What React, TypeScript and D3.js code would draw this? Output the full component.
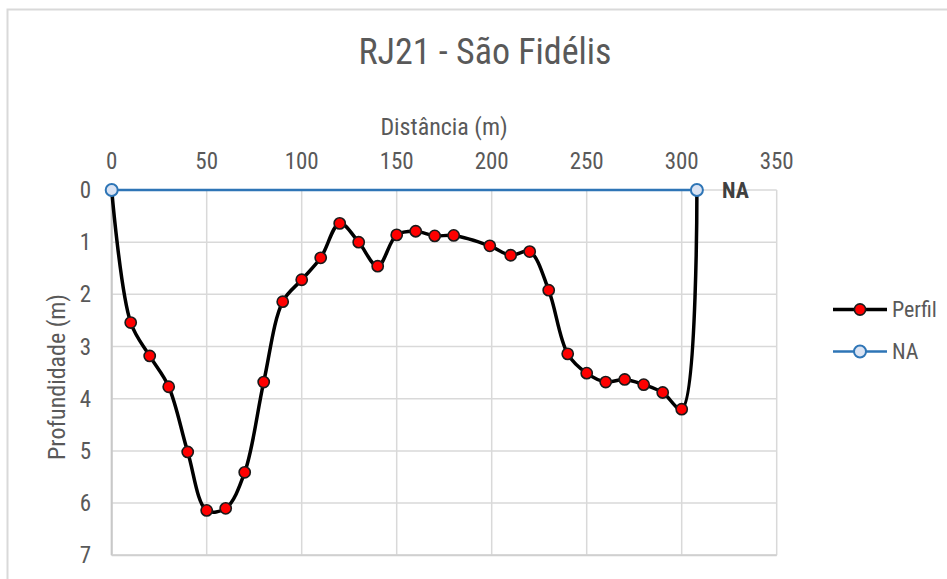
import React from "react";
import * as d3 from "d3";

const perfilDist = [0, 10, 20, 30, 40, 50, 60, 70, 80, 90, 100, 110, 120, 130, 140, 150, 160, 170, 180, 199, 210, 220, 230, 240, 250, 260, 270, 280, 290, 300, 308];
const perfilDepth = [0, 2.54, 3.18, 3.77, 5.02, 6.14, 6.1, 5.41, 3.68, 2.14, 1.72, 1.3, 0.64, 1.0, 1.46, 0.86, 0.79, 0.88, 0.87, 1.07, 1.25, 1.18, 1.92, 3.14, 3.51, 3.68, 3.63, 3.73, 3.88, 4.2, 0];
const naDist = [0, 308];
const naDepth = [0, 0];
const xTicks = [0, 50, 100, 150, 200, 250, 300, 350];
const yTicks = [0, 1, 2, 3, 4, 5, 6, 7];
const seriesNames = ["Perfil", "NA"];

const FONT = "'Liberation Sans Narrow', 'Arial Narrow', 'Roboto Condensed', 'Liberation Sans', Arial, sans-serif";
const TXT = "#595959";

export default function App() {
  const W = 947, H = 579;
  const x = d3.scaleLinear().domain([0, 350]).range([111.7, 776.7]);
  const y = d3.scaleLinear().domain([0, 7]).range([190, 555.3]);

  const perfil = perfilDist.map((d, i) => [d, perfilDepth[i]] as [number, number]);
  const na = naDist.map((d, i) => [d, naDepth[i]] as [number, number]);

  const line = d3.line<[number, number]>().x(d => x(d[0])).y(d => y(d[1])).curve(d3.curveCatmullRom.alpha(0.5));
  const naLine = d3.line<[number, number]>().x(d => x(d[0])).y(d => y(d[1]));

  return (
    <svg width={W} height={H} style={{ position: "absolute", left: 0, top: 0, background: "#fff" }} fontFamily={FONT}>
      <rect x={7.5} y={9.5} width={945} height={600} fill="#fff" stroke="#d9d9d9" strokeWidth={2} />
      <text x={485} y={64} textAnchor="middle" fontSize={36} fill={TXT}>RJ21 - São Fidélis</text>
      <text x={444} y={135} textAnchor="middle" fontSize={24} fill={TXT}>Distância (m)</text>
      <text transform={`translate(65,377) rotate(-90)`} textAnchor="middle" fontSize={24} fill={TXT}>Profundidade (m)</text>

      {xTicks.map(t => (
        <line key={"gx" + t} x1={x(t)} x2={x(t)} y1={y(0)} y2={y(7)} stroke="#d9d9d9" strokeWidth={1.5} />
      ))}
      {yTicks.map(t => (
        <line key={"gy" + t} x1={x(0)} x2={x(350)} y1={y(t)} y2={y(t)} stroke="#d9d9d9" strokeWidth={1.5} />
      ))}
      <line x1={x(0)} x2={x(0)} y1={y(0)} y2={y(7)} stroke="#c8c8c8" strokeWidth={2} />
      <line x1={x(0)} x2={x(350)} y1={y(7)} y2={y(7)} stroke="#d0d0d0" strokeWidth={2} />

      {xTicks.map(t => (
        <text key={"tx" + t} x={x(t)} y={169} textAnchor="middle" fontSize={23} fill={TXT}>{t}</text>
      ))}
      {yTicks.map(t => (
        <text key={"ty" + t} x={91} y={y(t)} dy="0.35em" textAnchor="end" fontSize={23} fill={TXT}>{t}</text>
      ))}

      <path d={line(perfil) || ""} fill="none" stroke="#000" strokeWidth={3.5} strokeLinejoin="round" />
      {perfil.slice(1, -1).map((d, i) => (
        <circle key={"p" + i} cx={x(d[0])} cy={y(d[1])} r={5.6} fill="#ff0000" stroke="#1a1a1a" strokeWidth={1.6} />
      ))}
      <path d={naLine(na) || ""} fill="none" stroke="#2e75b6" strokeWidth={2.5} />
      {na.map((d, i) => (
        <circle key={"n" + i} cx={x(d[0])} cy={y(d[1])} r={6} fill="#dae3f3" stroke="#2e75b6" strokeWidth={2} />
      ))}
      <text x={722} y={198} fontSize={22} fontWeight="bold" fill="#404040">NA</text>

      <g>
        <line x1={833} x2={887} y1={309.5} y2={309.5} stroke="#000" strokeWidth={3.5} />
        <circle cx={860} cy={309.5} r={5.6} fill="#ff0000" stroke="#1a1a1a" strokeWidth={1.6} />
        <text x={892} y={317} fontSize={22} fill={TXT}>{seriesNames[0]}</text>
        <line x1={833} x2={887} y1={351.5} y2={351.5} stroke="#2e75b6" strokeWidth={2.5} />
        <circle cx={860} cy={351.5} r={6} fill="#dae3f3" stroke="#2e75b6" strokeWidth={2} />
        <text x={892} y={359} fontSize={22} fill={TXT}>{seriesNames[1]}</text>
      </g>
    </svg>
  );
}
